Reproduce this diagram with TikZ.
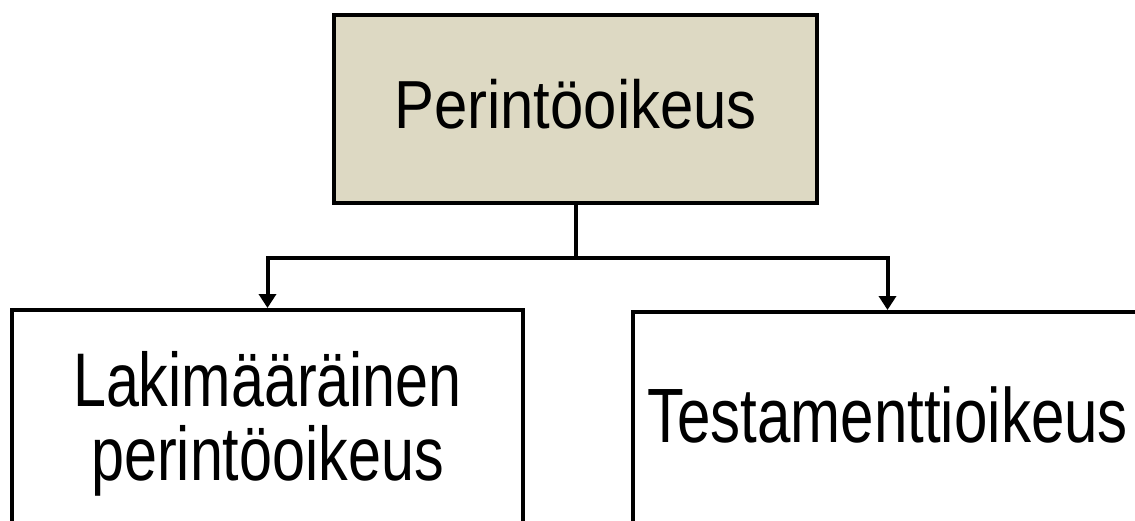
\documentclass[tikz,border=0pt]{standalone}
\usepackage{fontspec}
\usetikzlibrary{arrows.meta}
\setmainfont{Liberation Sans}
\newfontfamily\headfont[FakeStretch=0.88]{Liberation Sans}
\newfontfamily\leaffont[FakeStretch=0.78]{Liberation Sans}
\definecolor{headfill}{HTML}{DDD9C3}

\begin{document}
\begin{tikzpicture}[x=0.5pt, y=-0.5pt,
    box/.style = {draw, line width=2pt, align=center, inner sep=0pt},
    conn/.style = {line width=2pt},
    arr/.style = {conn, -{Triangle[width=8.5pt,length=7pt]}}]
  \clip (0,0) rectangle (1135,520);
  \node (inh) [box, fill=headfill, minimum width=241.5pt, minimum height=94pt,
    text depth=5pt, font=\headfont\fontsize{34}{40}\selectfont]
    at (575.5,109) {Perintöoikeus};
  \node (leg) [box, minimum width=255.5pt, minimum height=114pt,
    font=\leaffont\fontsize{38}{37}\selectfont] at (267.5,424)
    {Lakimääräinen\\perintöoikeus};
  \node (tes) [box, minimum width=254.5pt, minimum height=114pt, text depth=11pt,
    font=\leaffont\fontsize{38.5}{40}\selectfont] at (887.5,426) {Testamenttioikeus};
  \coordinate (split) at (575.5,258);
  \draw[conn] (inh.south) -- (split);
  \draw[arr] (split) -| (leg.north);
  \draw[arr] (split) -| (tes.north);
\end{tikzpicture}
\end{document}
